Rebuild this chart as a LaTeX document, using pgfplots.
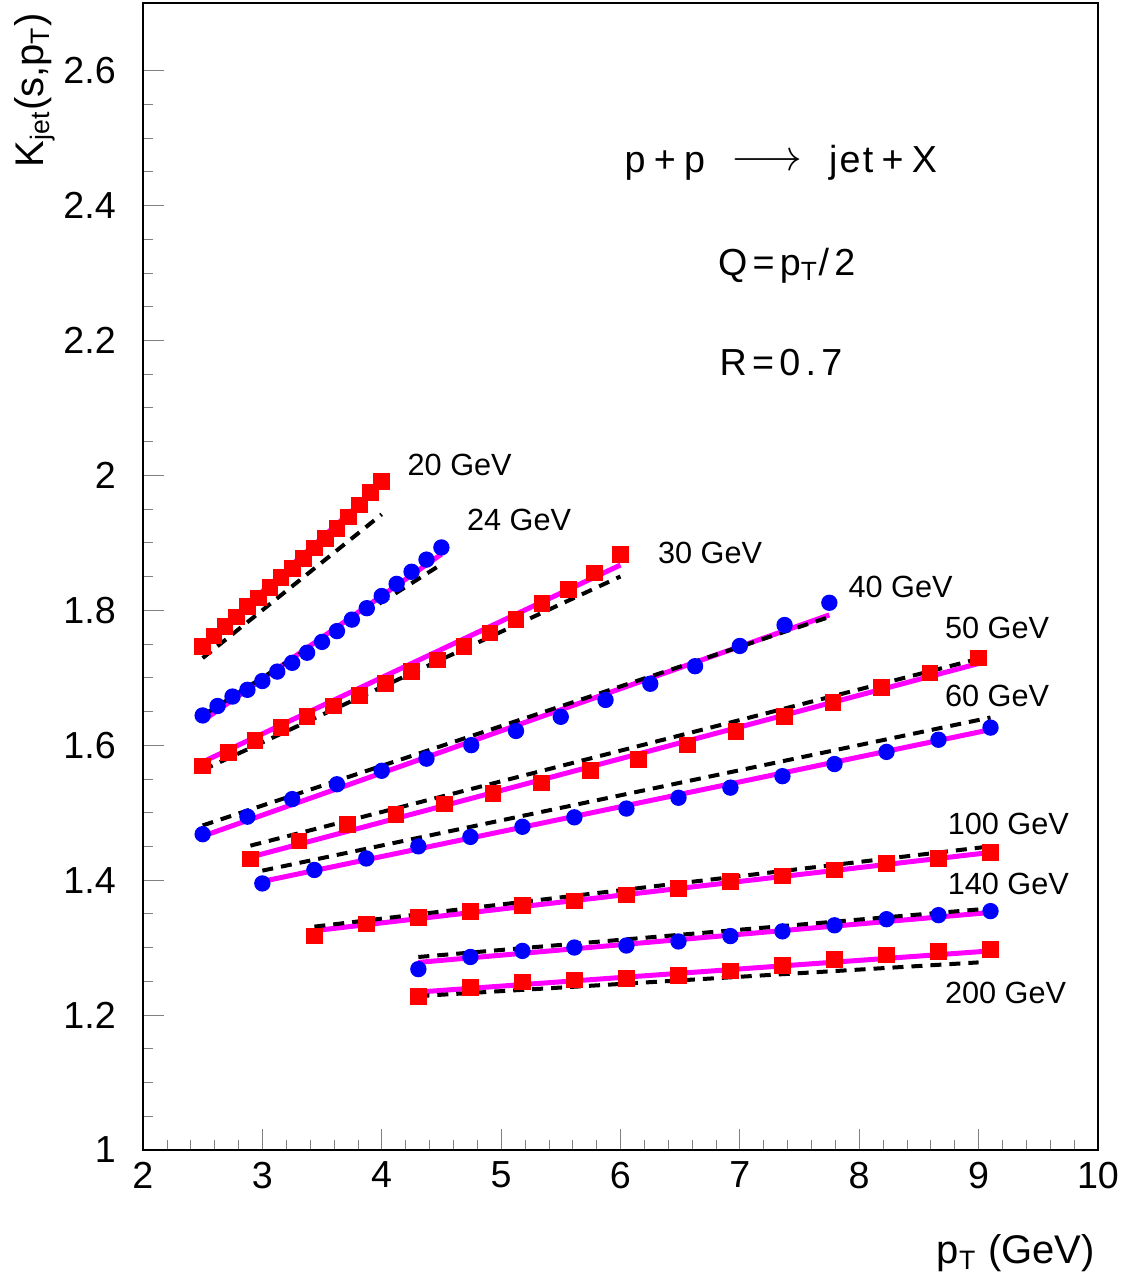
\documentclass[border=0pt]{standalone}
\usepackage{fontspec}
\setmainfont{Liberation Sans}
\newfontfamily\wide[LetterSpace=14]{Liberation Sans}
\newfontfamily\slight[LetterSpace=6]{Liberation Sans}
\usepackage{pgfplots}
\pgfplotsset{compat=1.18}
\definecolor{mag}{rgb}{1,0,1}

\pgfplotsset{
  sq/.style={only marks, mark=square*, mark size=2.3pt, color=red},
  ci/.style={only marks, mark=*, mark size=2.25pt, color=blue},
  th/.style={mag, line width=1.5pt, no markers},
  ds/.style={black, line width=1.2pt, dash pattern=on 3.3pt off 2.4pt, no markers},
}
\newcommand{\lbl}{\fontsize{9.2}{11}\selectfont}
\newcommand{\bigtxt}{\fontsize{11.3}{13}\selectfont}

\begin{document}
\begin{tikzpicture}
\begin{axis}[
  scale only axis,
  width=286.5pt, height=344.1pt,
  xmin=2, xmax=10, ymin=1, ymax=2.7,
  xtick={2,3,...,10},
  ytick={1,1.2,1.4,1.6,1.8,2,2.2,2.4,2.6},
  minor x tick num=4,
  minor y tick num=3,
  tick align=inside,
  tick pos=left,
  major tick length=6.3pt,
  minor tick length=3pt,
  clip=false,
  /pgf/number format/assume math mode=true,
  ticklabel style={font=\bigtxt},
  yticklabel style={xshift=-4.6pt},
  xlabel={p\textsubscript{T} (GeV)},
  ylabel={K\textsubscript{jet}(s,p\textsubscript{T})},
  label style={font=\fontsize{12}{14}\selectfont},
  xlabel style={at={(rel axis cs:0.914,-0.0898)}, anchor=center},
  ylabel style={at={(rel axis cs:-0.113,0.924)}, anchor=center},
]
% 20 GeV
\addplot[sq] table {
x y
2.5 1.746
2.594 1.762
2.688 1.776
2.781 1.790
2.875 1.805
2.969 1.818
3.063 1.834
3.156 1.848
3.25 1.862
3.344 1.877
3.438 1.892
3.531 1.906
3.625 1.921
3.719 1.938
3.813 1.956
3.906 1.974
4.0 1.991
};
\addplot[th] coordinates {(2.5,1.748) (4.0,1.987)};
\addplot[ds] coordinates {(2.5,1.729) (4.0,1.942)};
% 24 GeV
\addplot[ci] table {
x y
2.5 1.644
2.625 1.658
2.75 1.672
2.875 1.682
3.0 1.695
3.125 1.709
3.25 1.722
3.375 1.737
3.5 1.753
3.625 1.769
3.75 1.786
3.875 1.803
4.0 1.821
4.125 1.839
4.25 1.857
4.375 1.875
4.5 1.893
};
\addplot[th] coordinates {(2.5,1.636) (4.5,1.883)};
\addplot[ds] coordinates {(2.5,1.644) (4.5,1.868)};
% 30 GeV
\addplot[sq] table {
x y
2.5 1.569
2.719 1.589
2.938 1.607
3.156 1.626
3.375 1.642
3.594 1.658
3.813 1.674
4.031 1.691
4.25 1.709
4.469 1.726
4.688 1.746
4.906 1.766
5.125 1.786
5.344 1.810
5.563 1.831
5.781 1.855
6.0 1.883
};
\addplot[th] coordinates {(2.5,1.575) (6.0,1.867)};
\addplot[ds] coordinates {(2.5,1.563) (6.0,1.850)};
% 40 GeV
\addplot[ci] table {
x y
2.5 1.468
2.875 1.494
3.25 1.520
3.625 1.542
4.0 1.562
4.375 1.580
4.75 1.600
5.125 1.621
5.5 1.642
5.875 1.667
6.25 1.691
6.625 1.717
7.0 1.747
7.375 1.778
7.75 1.811
};
\addplot[th] coordinates {(2.5,1.465) (7.75,1.793)};
\addplot[ds] coordinates {(2.5,1.481) (7.75,1.790)};
% 50 GeV
\addplot[sq] table {
x y
2.9 1.431
3.307 1.458
3.713 1.482
4.12 1.497
4.527 1.513
4.933 1.528
5.34 1.544
5.747 1.562
6.153 1.579
6.56 1.600
6.967 1.620
7.373 1.642
7.78 1.663
8.187 1.685
8.593 1.707
9.0 1.729
};
\addplot[th] coordinates {(2.9,1.434) (9.0,1.721)};
\addplot[ds] coordinates {(2.9,1.451) (9.0,1.728)};
% 60 GeV
\addplot[ci] table {
x y
3.0 1.395
3.436 1.415
3.871 1.432
4.307 1.450
4.743 1.464
5.179 1.479
5.614 1.493
6.05 1.506
6.486 1.522
6.921 1.537
7.357 1.554
7.793 1.572
8.229 1.590
8.664 1.608
9.1 1.626
};
\addplot[th] coordinates {(3.0,1.398) (9.1,1.623)};
\addplot[ds] coordinates {(3.0,1.414) (9.1,1.641)};
% 100 GeV
\addplot[sq] table {
x y
3.436 1.317
3.871 1.335
4.307 1.345
4.743 1.353
5.179 1.362
5.614 1.369
6.05 1.378
6.486 1.388
6.921 1.398
7.357 1.406
7.793 1.415
8.229 1.425
8.664 1.432
9.1 1.441
};
\addplot[th] coordinates {(3.436,1.325) (9.1,1.441)};
\addplot[ds] coordinates {(3.436,1.331) (9.1,1.450)};
% 140 GeV
\addplot[ci] table {
x y
4.307 1.268
4.743 1.286
5.179 1.295
5.614 1.300
6.05 1.303
6.486 1.309
6.921 1.317
7.357 1.324
7.793 1.333
8.229 1.342
8.664 1.348
9.1 1.354
};
\addplot[th] coordinates {(4.307,1.278) (9.1,1.352)};
\addplot[ds] coordinates {(4.307,1.286) (9.1,1.358)};
% 200 GeV
\addplot[sq] table {
x y
4.307 1.227
4.743 1.241
5.179 1.249
5.614 1.252
6.05 1.254
6.486 1.259
6.921 1.265
7.357 1.273
7.793 1.282
8.229 1.289
8.664 1.294
9.1 1.297
};
\addplot[th] coordinates {(4.307,1.234) (9.1,1.295)};
\addplot[ds] coordinates {(4.307,1.228) (9.0,1.278)};

% energy labels
\begin{scope}[every node/.style={anchor=west, inner sep=0pt, font=\lbl}]
\node at (axis cs:4.212,2.0148) {20 GeV};
\node at (axis cs:4.710,1.9341) {24 GeV};
\node at (axis cs:6.310,1.8847) {30 GeV};
\node at (axis cs:7.906,1.8340) {40 GeV};
\node at (axis cs:8.714,1.7741) {50 GeV};
\node at (axis cs:8.714,1.6733) {60 GeV};
\node at (axis cs:8.737,1.4834) {100 GeV};
\node at (axis cs:8.737,1.3941) {140 GeV};
\node at (axis cs:8.714,1.2333) {200 GeV};
\end{scope}

% process text
\node[anchor=base west, inner sep=0pt, font=\bigtxt\slight] at (axis cs:6.029,2.4493)
  {p\hspace{2.5pt}+\hspace{2.5pt}p\hspace{8pt}\raisebox{0.4pt}{\scalebox{1.2}{$\longrightarrow$}}\hspace{8pt}jet\hspace{2.5pt}+\hspace{2.5pt}X};
\node[anchor=base west, inner sep=0pt, font=\bigtxt] at (axis cs:6.813,2.2963)
  {\wide Q=p\textsubscript{T}/2};
\node[anchor=base west, inner sep=0pt, font=\bigtxt] at (axis cs:6.826,2.1481)
  {\wide R=0.7};

\coordinate (bbsw) at (rel axis cs:-0.1497,-0.116);
\coordinate (bbne) at (rel axis cs:1.0272,1.0026);
\end{axis}
\pgfresetboundingbox
\useasboundingbox (bbsw) rectangle (bbne);
\end{tikzpicture}
\end{document}
